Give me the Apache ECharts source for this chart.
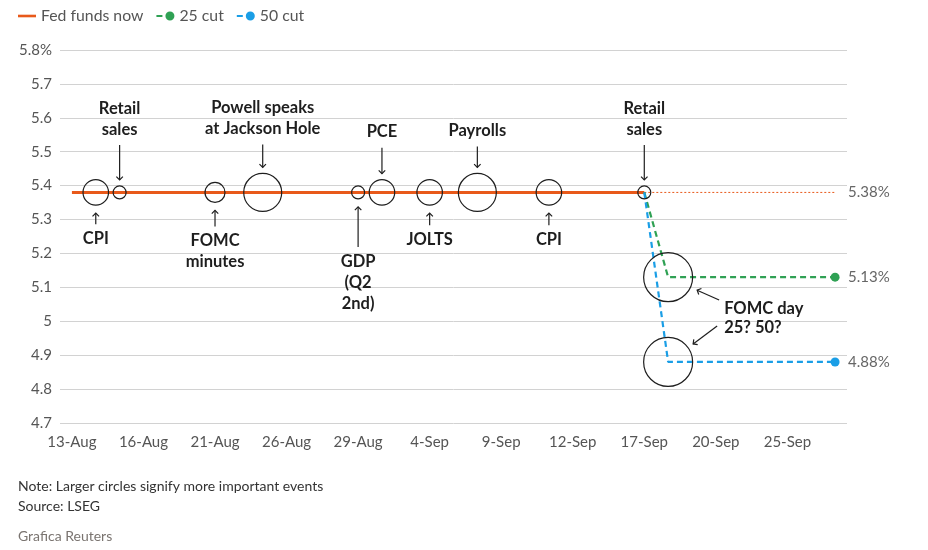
<!DOCTYPE html>
<html>
<head>
<meta charset="utf-8">
<script src="https://cdn.jsdelivr.net/npm/echarts@6/dist/echarts.min.js"></script>
<style>html,body{margin:0;padding:0;background:#fff}#c{width:928px;height:550px}</style>
</head>
<body>
<div id="c"></div>
<script>
// ---- data ----
const days = ['13-Aug','14-Aug','15-Aug','16-Aug','19-Aug','20-Aug','21-Aug','22-Aug','23-Aug',
  '26-Aug','27-Aug','28-Aug','29-Aug','30-Aug',
  '3-Sep','4-Sep','5-Sep','6-Sep','9-Sep','10-Sep','11-Sep','12-Sep','13-Sep',
  '16-Sep','17-Sep','18-Sep','19-Sep','20-Sep','23-Sep','24-Sep','25-Sep','26-Sep','27-Sep'];
const fedNow = [['13-Aug', 5.38], ['17-Sep', 5.38]];
const fedHold = [['17-Sep', 5.38], ['27-Sep', 5.38]];
const cut25 = [['17-Sep', 5.38], ['18-Sep', 5.13], ['27-Sep', 5.13]];
const cut50 = [['17-Sep', 5.38], ['18-Sep', 4.88], ['27-Sep', 4.88]];
const eventDays = ['14-Aug','15-Aug','21-Aug','23-Aug','29-Aug','30-Aug','4-Sep','6-Sep','11-Sep','17-Sep','18-Sep','18-Sep'];
const eventNames = ['CPI','Retail\nsales','FOMC\nminutes','Powell speaks\nat Jackson Hole','GDP\n(Q2\n2nd)','PCE','JOLTS','Payrolls','CPI','Retail\nsales','FOMC day\n25? 50?',''];
const eventRates = [5.38,5.38,5.38,5.38,5.38,5.38,5.38,5.38,5.38,5.38,5.13,4.88];
const eventImportance = [3,1,2,4,1,3,3,4,3,1,5,5];
const yMin = 4.7, yMax = 5.8, yStep = 0.1;

// ---- style / layout ----
const FONT = 'Lato';
const BOLD = 'bold 16.5px ' + FONT;
const circleSize = {1: 13, 2: 20, 3: 25.5, 4: 38, 5: 49};
const annoLayout = [
  {side: 'below', len: 11}, {side: 'above', len: 35}, {side: 'below', len: 16},
  {side: 'above', len: 23}, {side: 'below', len: 40}, {side: 'above', len: 26},
  {side: 'below', len: 12}, {side: 'above', len: 21}, {side: 'below', len: 12},
  {side: 'above', len: 35}
];
const INK = '#1e1e1e';

function head(tx, ty, fx, fy) {
  const dx = tx - fx, dy = ty - fy, L = Math.hypot(dx, dy);
  const ux = dx / L, uy = dy / L, a = 4.6, c = Math.SQRT1_2;
  const p1 = [tx - a * (ux * c - uy * c), ty - a * (uy * c + ux * c)];
  const p2 = [tx - a * (ux * c + uy * c), ty - a * (uy * c - ux * c)];
  return {type: 'polyline', shape: {points: [p1, [tx, ty], p2]},
    style: {stroke: INK, lineWidth: 1.2, fill: null}};
}
function arrow(fx, fy, tx, ty) {
  return [{type: 'line', shape: {x1: fx, y1: fy, x2: tx, y2: ty}, style: {stroke: INK, lineWidth: 1.2}},
    head(tx, ty, fx, fy)];
}
function label(x, y, text, align, vAlign) {
  return {type: 'text', style: {text: text, x: x, y: y, fill: INK, font: BOLD,
    align: align, verticalAlign: vAlign, lineHeight: 21}};
}

function renderAnno(params, api) {
  const i = api.value(2);
  const p = api.coord([api.value(0), api.value(1)]);
  const r = circleSize[eventImportance[i]] / 2;
  let children = [];
  if (i === 10) {
    const q = api.coord([api.value(0), eventRates[11]]);
    const mid = (p[1] + q[1]) / 2;
    children = children.concat(arrow(p[0] + 51, mid - 19.5, p[0] + 29, p[1] + 13));
    children = children.concat(arrow(p[0] + 49, mid + 6.5, p[0] + 25, q[1] - 18));
    children.push({type: 'text', style: {text: eventNames[i], x: p[0] + 56, y: mid - 1, fill: INK,
      font: BOLD, align: 'left', verticalAlign: 'middle', lineHeight: 19}});
  } else {
    const lay = annoLayout[i];
    if (lay.side === 'above') {
      const tip = p[1] - r - 6, tail = tip - lay.len;
      children = children.concat(arrow(p[0], tail, p[0], tip));
      children.push(label(p[0], tail - 5, eventNames[i], 'center', 'bottom'));
    } else {
      const tip = p[1] + r + 8, tail = tip + lay.len;
      children = children.concat(arrow(p[0], tail, p[0], tip));
      children.push(label(p[0], tail + 4, eventNames[i], 'center', 'top'));
    }
  }
  return {type: 'group', children: children};
}

const annoData = [];
for (let i = 0; i <= 10; i++) annoData.push([eventDays[i], eventRates[i], i]);
const circleData = eventDays.map((d, i) => [d, eventRates[i], eventImportance[i]]);

const ORANGE = '#e8591a', GREEN = '#2fa154', BLUE = '#1a9ee6';
const dashDot = 'path://M0,3.5h6v2h-6z M9,4.5a4.5,4.5 0 1,0 9,0a4.5,4.5 0 1,0 -9,0z';
const chart = echarts.init(document.getElementById('c'), null, {renderer: 'canvas'});
chart.setOption({
  animation: false,
  backgroundColor: '#fff',
  textStyle: {fontFamily: FONT},
  title: [
    {text: 'Note: Larger circles signify more important events', left: 18, top: 479, padding: 0,
      textStyle: {fontSize: 14, fontWeight: 'normal', color: '#333', fontFamily: FONT}},
    {text: 'Source: LSEG', left: 18, top: 499, padding: 0,
      textStyle: {fontSize: 14, fontWeight: 'normal', color: '#333', fontFamily: FONT}},
    {text: 'Grafica Reuters', left: 18, top: 529, padding: 0,
      textStyle: {fontSize: 14, fontWeight: 'normal', color: '#7a7470', fontFamily: FONT}}
  ],
  legend: {
    left: 18, top: 8, padding: 0, itemGap: 13, itemWidth: 18, itemHeight: 9,
    textStyle: {fontSize: 15.8, color: '#555', fontFamily: FONT},
    data: [
      {name: 'Fed funds now', icon: 'path://M0,0M18,9M0,3.2h18v2.6h-18z'},
      {name: '25 cut', icon: dashDot},
      {name: '50 cut', icon: dashDot}
    ]
  },
  grid: {left: 60, right: 81, top: 50, bottom: 127},
  xAxis: {
    type: 'category', data: days, boundaryGap: true,
    axisLine: {show: false}, axisTick: {show: false},
    axisLabel: {interval: 2, color: '#555', fontSize: 15, margin: 12, fontFamily: FONT},
    splitLine: {show: false}
  },
  yAxis: {
    type: 'value', min: yMin, max: yMax, interval: yStep,
    axisLine: {show: false}, axisTick: {show: false},
    axisLabel: {color: '#555', fontSize: 15, margin: 8, fontFamily: FONT,
      formatter: v => { const s = String(+v.toFixed(1)); return Math.abs(v - yMax) < 1e-6 ? s + '%' : s; }},
    splitLine: {lineStyle: {color: '#d2d2d2', width: 1}}
  },
  series: [
    {name: 'Fed funds now', type: 'line', data: fedNow, symbol: 'none', z: 3,
      lineStyle: {color: ORANGE, width: 3}, itemStyle: {color: ORANGE}},
    {name: 'hold', type: 'line', data: fedHold, symbol: 'none', z: 2,
      lineStyle: {color: ORANGE, width: 1, type: [2, 2]},
      endLabel: {show: true, distance: 13, color: '#666', fontSize: 15, fontFamily: FONT,
        formatter: p => p.value[1].toFixed(2) + '%'}},
    {name: '25 cut', type: 'line', data: cut25, symbol: 'circle', z: 3,
      symbolSize: (v, p) => p.dataIndex === cut25.length - 1 ? 9 : 0,
      lineStyle: {color: GREEN, width: 2.2, type: [6, 4]}, itemStyle: {color: GREEN},
      endLabel: {show: true, distance: 13, color: '#666', fontSize: 15, fontFamily: FONT,
        formatter: p => p.value[1].toFixed(2) + '%'}},
    {name: '50 cut', type: 'line', data: cut50, symbol: 'circle', z: 3,
      symbolSize: (v, p) => p.dataIndex === cut50.length - 1 ? 9 : 0,
      lineStyle: {color: BLUE, width: 2.2, type: [6, 4]}, itemStyle: {color: BLUE},
      endLabel: {show: true, distance: 13, color: '#666', fontSize: 15, fontFamily: FONT,
        formatter: p => p.value[1].toFixed(2) + '%'}},
    {name: 'events', type: 'scatter', data: circleData, z: 5,
      symbolSize: v => circleSize[v[2]],
      itemStyle: {color: 'rgba(0,0,0,0)', borderColor: INK, borderWidth: 1.2, opacity: 1}},
    {name: 'annotations', type: 'custom', data: annoData, z: 6, renderItem: renderAnno,
      encode: {x: 0, y: 1}, silent: true}
  ]
});
</script>
</body>
</html>
